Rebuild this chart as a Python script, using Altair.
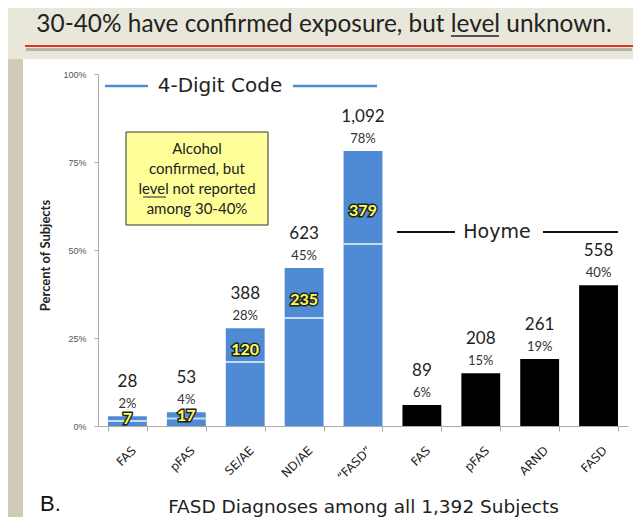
import altair as alt
import pandas as pd

# ---- data ----
idx = [0, 1, 2, 3, 4, 5, 6, 7, 8]
labels = ["FAS", "pFAS", "SE/AE", "ND/AE", "“FASD”", "FAS", "pFAS", "ARND", "FASD"]
groups = ["4-Digit", "4-Digit", "4-Digit", "4-Digit", "4-Digit", "Hoyme", "Hoyme", "Hoyme", "Hoyme"]
pct_total = [2.8, 3.9, 27.8, 44.9, 78.1, 6.0, 15.0, 19.0, 40.0]
counts = [28, 53, 388, 623, 1092, 89, 208, 261, 558]
pct_labels = ["2%", "4%", "28%", "45%", "78%", "6%", "15%", "19%", "40%"]

# 4-Digit bars: split where the "level not reported" part begins
split_idx = [0, 1, 2, 3, 4]
split_pct = [1.4, 2.1, 18.2, 30.7, 51.7]
split_tot = [2.8, 3.9, 27.8, 44.9, 78.1]
inner_counts = [7, 17, 120, 235, 379]

df = pd.DataFrame({"idx": idx, "label": labels, "group": groups, "pct": pct_total,
                   "count": counts, "pctlab": pct_labels})
sdf = pd.DataFrame({"idx": split_idx, "split": split_pct, "tot": split_tot, "inner": inner_counts})
one = pd.DataFrame({"a": [0]})

W, H = 530, 352
label_expr = "[" + ",".join("'" + l + "'" for l in labels) + "][datum.value]"

xenc = alt.X("idx:O",
             scale=alt.Scale(paddingInner=0.34, paddingOuter=0.17),
             axis=alt.Axis(title="FASD Diagnoses among all 1,392 Subjects", labelExpr=label_expr,
                           labelAngle=315, labelAlign="right", labelBaseline="middle",
                           labelFont="DejaVu Sans", labelFontSize=12, labelColor="#222",
                           labelOffset=6,
                           tickBand="extent", tickSize=5, tickColor="#aaa", domainColor="#aaa",
                           titleFont="DejaVu Sans", titleFontSize=18.5, titleFontWeight="normal",
                           titleColor="#222", titleY=80, titleBaseline="middle", labelPadding=17,
                           zindex=1))
yscale = alt.Scale(domain=[0, 100])
yaxis = alt.Axis(title="Percent of Subjects", values=[0, 25, 50, 75, 100],
                 labelExpr="datum.value + '%'", labelFont="Liberation Sans", labelFontSize=9,
                 labelColor="#555", tickSize=4, tickColor="#aaa", domainColor="#aaa",
                 labelPadding=8, grid=False, titleFont="Lato", titleFontSize=13,
                 titleFontWeight="bold", titleColor="#222", titleX=-53, titleY=181,
                 titleAngle=-90, titleBaseline="middle", titleAlign="center", zindex=1)

base = alt.Chart(df)

bars = base.mark_bar().encode(
    x=xenc,
    y=alt.Y("pct:Q", scale=yscale, axis=yaxis),
    color=alt.Color("group:N", scale=alt.Scale(domain=["4-Digit", "Hoyme"], range=["#4f8bd4", "#000000"]), legend=None),
)

splits = alt.Chart(sdf).mark_tick(color="white", thickness=2, size=39).encode(
    x="idx:O", y=alt.Y("split:Q", scale=yscale))

cnt = base.mark_text(font="Lato", fontSize=17, color="#222", baseline="middle", dy=-34).encode(
    x="idx:O", y=alt.Y("pct:Q", scale=yscale), text=alt.Text("count:Q", format=","))
pcts = base.mark_text(font="Lato", fontSize=13, color="#333", baseline="middle", dy=-12).encode(
    x="idx:O", y=alt.Y("pct:Q", scale=yscale), text="pctlab:N")

inner_base = alt.Chart(sdf).transform_calculate(pos="datum.split + 0.35*(datum.tot - datum.split)")
inner_stroke = inner_base.mark_text(font="Lato", fontSize=16, fontWeight="bold", baseline="middle",
                                    stroke="#222", strokeWidth=3, color="#222").encode(
    x="idx:O", y=alt.Y("pos:Q", scale=yscale), text="inner:Q")
inner_fill = inner_base.mark_text(font="Lato", fontSize=16, fontWeight="bold", baseline="middle",
                                  color="#ffff55").encode(
    x="idx:O", y=alt.Y("pos:Q", scale=yscale), text="inner:Q")

o = alt.Chart(one)
panel = o.mark_rect(color="white").encode(x=alt.value(-75), x2=alt.value(545), y=alt.value(-15), y2=alt.value(460))
left_strip = o.mark_rect(color="#cfcbb8").encode(x=alt.value(-92), x2=alt.value(-75), y=alt.value(-15), y2=alt.value(460))
shadow = o.mark_rule(color="#8a8a82", strokeWidth=3, opacity=0.55).encode(
    x=alt.value(-72), x2=alt.value(534), y=alt.value(-24.5))
redline = o.mark_rule(color="#e2302a", strokeWidth=2).encode(
    x=alt.value(-73), x2=alt.value(535), y=alt.value(-28))
title = o.mark_text(text="30-40% have confirmed exposure, but level unknown.", font="Lato",
                    fontSize=24.4, color="#222", baseline="middle").encode(x=alt.value(226), y=alt.value(-49))
title_ul = o.mark_rule(color="#222", strokeWidth=1.3).encode(x=alt.value(353), x2=alt.value(401), y=alt.value(-38))

box = o.mark_rect(color="#ffff99", stroke="#333", strokeWidth=1).encode(
    x=alt.value(28), x2=alt.value(170), y=alt.value(58), y2=alt.value(151))
box_text = o.mark_text(text=["Alcohol", "confirmed, but", "level not reported", "among 30-40%"],
                       font="Lato", fontSize=15, lineHeight=20, color="#222", baseline="middle").encode(
    x=alt.value(99), y=alt.value(75))
box_ul = o.mark_rule(color="#222", strokeWidth=1).encode(x=alt.value(45), x2=alt.value(68), y=alt.value(123))

h1a = o.mark_rule(color="#4f8bd4", strokeWidth=2.5).encode(x=alt.value(7), x2=alt.value(50), y=alt.value(12))
h1b = o.mark_rule(color="#4f8bd4", strokeWidth=2.5).encode(x=alt.value(195), x2=alt.value(279), y=alt.value(12))
h1t = o.mark_text(text="4-Digit Code", font="DejaVu Sans", fontSize=20, color="#222", baseline="middle").encode(
    x=alt.value(122), y=alt.value(12))
h2a = o.mark_rule(color="#111", strokeWidth=2).encode(x=alt.value(299), x2=alt.value(357), y=alt.value(158))
h2b = o.mark_rule(color="#111", strokeWidth=2).encode(x=alt.value(445), x2=alt.value(520), y=alt.value(158))
h2t = o.mark_text(text="Hoyme", font="DejaVu Sans", fontSize=19, color="#222", baseline="middle").encode(
    x=alt.value(399), y=alt.value(158))

btxt = o.mark_text(text="B.", font="Liberation Sans", fontSize=22, color="#111", align="left",
                   baseline="middle").encode(x=alt.value(-58), y=alt.value(430))

chart = alt.layer(
    panel, left_strip, shadow, redline, title, title_ul,
    bars, splits, cnt, pcts, inner_stroke, inner_fill,
    box, box_text, box_ul, h1a, h1b, h1t, h2a, h2b, h2t, btxt
).properties(
    width=W, height=H, autosize="none",
    padding={"left": 90, "top": 66, "right": 5, "bottom": 91},
    background="#e9e7da"
).configure_view(stroke=None)

chart.save("out.html", embed_options={"renderer": "svg", "actions": False})
